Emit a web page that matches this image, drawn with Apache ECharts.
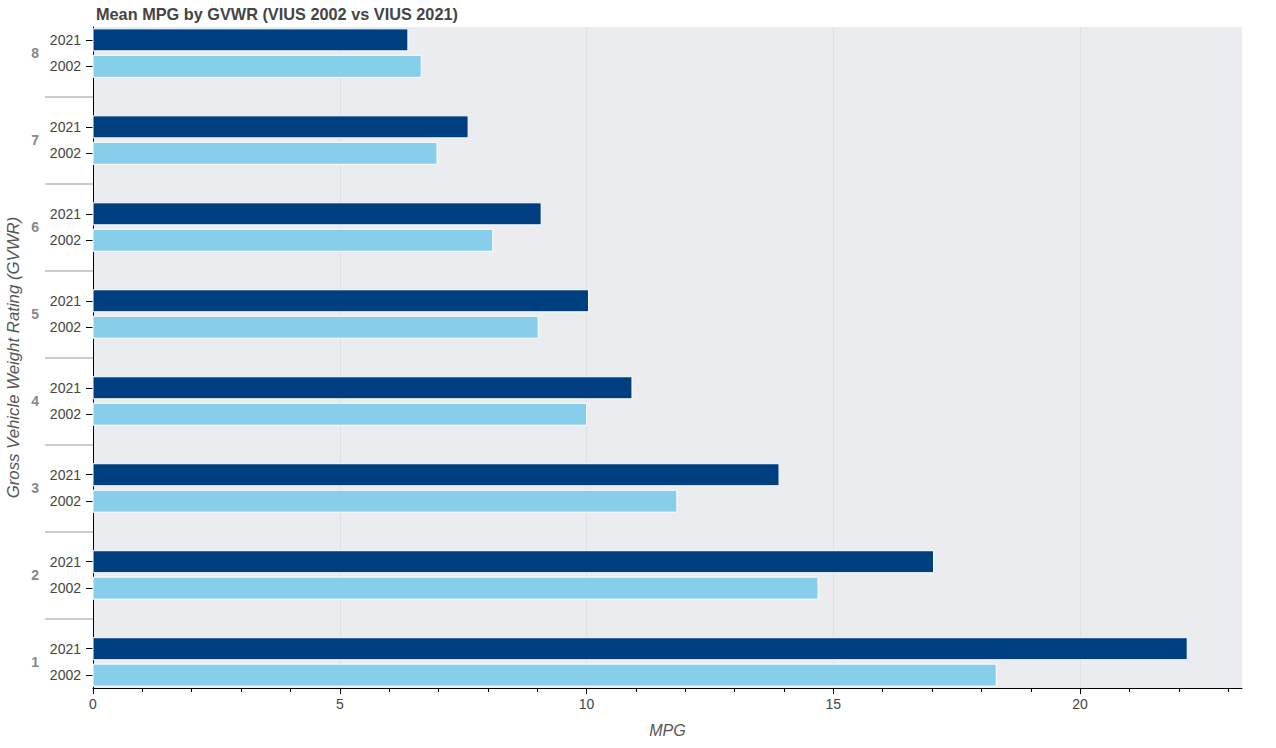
<!DOCTYPE html>
<html>
<head>
<meta charset="utf-8">
<script src="https://cdn.jsdelivr.net/npm/echarts@6/dist/echarts.min.js"></script>
<style>
html,body{margin:0;padding:0;background:#fff;}
#chart{width:1276px;height:748px;}
</style>
</head>
<body>
<div id="chart"></div>
<script>
// ---- data ----
var groups = ['1', '2', '3', '4', '5', '6', '7', '8'];          // GVWR class
var years = ['2021', '2002'];
var mpg2021 = [22.17, 17.03, 13.90, 10.92, 10.04, 9.08, 7.60, 6.38];
var mpg2002 = [18.30, 14.69, 11.83, 10.00, 9.02, 8.10, 6.97, 6.65];
var xTickLabels = [0, 5, 10, 15, 20];

// ---- layout constants ----
var yearOffset = 0.152;   // half distance between the two bars of a group (in group units)
var barHeight = 22;
var colors = { '2021': '#003f7f', '2002': '#87ceeb' };
var FONT = '"Liberation Sans", Arial, Helvetica, sans-serif';

var groupPos = groups.map(function (g, i) { return i + 1; });
var yearTickVals = [];
groupPos.forEach(function (p) { yearTickVals.push(p + yearOffset); yearTickVals.push(p - yearOffset); });
var sepVals = [];
for (var i = 1; i < groupPos.length; i++) sepVals.push((groupPos[i - 1] + groupPos[i]) / 2);
var minorVals = [];
for (var m = 1; m <= 23; m++) if (m % 5 !== 0) minorVals.push(m);

function makeRender(year, dir) {
  return function (params, api) {
    var v = api.value(0), g = api.value(1);
    var p0 = api.coord([0, g + dir * yearOffset]);
    var p1 = api.coord([v, g + dir * yearOffset]);
    return {
      type: 'rect',
      shape: { x: p0[0], y: p0[1] - barHeight / 2, width: p1[0] - p0[0], height: barHeight },
      style: { fill: colors[year], stroke: '#ffffff', lineWidth: 1 }
    };
  };
}

var chart = echarts.init(document.getElementById('chart'), null, { renderer: 'svg' });
chart.setOption({
  animation: false,
  backgroundColor: '#ffffff',
  textStyle: { fontFamily: FONT },
  title: {
    text: 'Mean MPG by GVWR (VIUS 2002 vs VIUS 2021)',
    left: 91, top: 1,
    textStyle: { fontFamily: FONT, fontSize: 16.3, fontWeight: 'bold', color: '#444444' }
  },
  grid: {
    left: 93, right: 34, top: 27, bottom: 60, show: true, backgroundColor: '#ebecef', borderWidth: 0,
    containLabel: false, outerBoundsMode: 'none'
  },
  xAxis: [{
    type: 'value', min: 0, max: 23.28, interval: 5,
    name: 'MPG', nameLocation: 'middle', nameGap: 34, nameMoveOverlap: false,
    nameTextStyle: { fontFamily: FONT, fontSize: 16, fontStyle: 'italic', color: '#555555' },
    axisLine: { show: true, lineStyle: { color: '#000000', width: 1 } },
    axisTick: { show: true, length: 6, customValues: xTickLabels, lineStyle: { color: '#000000' } },
    axisLabel: { customValues: xTickLabels, color: '#444444', fontSize: 14, margin: 9, fontFamily: FONT },
    splitLine: { show: true, lineStyle: { color: '#dedfe3', width: 1 } }
  }, {
    type: 'value', min: 0, max: 23.28, position: 'bottom',
    axisLine: { show: false },
    axisTick: { show: true, length: 4, customValues: minorVals, lineStyle: { color: '#000000' } },
    axisLabel: { show: false },
    splitLine: { show: false }
  }],
  yAxis: [{
    type: 'value', min: 0.7, max: 8.3,
    name: 'Gross Vehicle Weight Rating (GVWR)', nameLocation: 'middle', nameGap: 71, nameRotate: 90, nameMoveOverlap: false,
    nameTextStyle: { fontFamily: FONT, fontSize: 16.8, fontStyle: 'italic', color: '#555555' },
    axisLine: { show: true, lineStyle: { color: '#000000', width: 1 } },
    axisTick: { show: true, length: 7, customValues: yearTickVals, lineStyle: { color: '#000000' } },
    axisLabel: {
      customValues: yearTickVals, color: '#444444', fontSize: 14, margin: 12, fontFamily: FONT,
      formatter: function (v) { return v > Math.round(v) ? years[0] : years[1]; }
    },
    splitLine: { show: false }
  }, {
    type: 'value', min: 0.7, max: 8.3, position: 'left', offset: 3,
    axisLine: { show: false },
    axisTick: { show: true, length: 48, customValues: sepVals, lineStyle: { color: '#cccccc', width: 2 } },
    axisLabel: {
      customValues: groupPos, color: '#888888', fontSize: 14, fontWeight: 'bold', margin: 51, fontFamily: FONT,
      formatter: function (v) { return groups[Math.round(v) - 1]; }
    },
    splitLine: { show: false }
  }],
  series: [{
    name: '2021', type: 'custom', xAxisIndex: 0, yAxisIndex: 0,
    renderItem: makeRender('2021', 1),
    encode: { x: 0, y: 1 },
    data: mpg2021.map(function (v, i) { return [v, groupPos[i]]; })
  }, {
    name: '2002', type: 'custom', xAxisIndex: 0, yAxisIndex: 0,
    renderItem: makeRender('2002', -1),
    encode: { x: 0, y: 1 },
    data: mpg2002.map(function (v, i) { return [v, groupPos[i]]; })
  }]
});
</script>
</body>
</html>
